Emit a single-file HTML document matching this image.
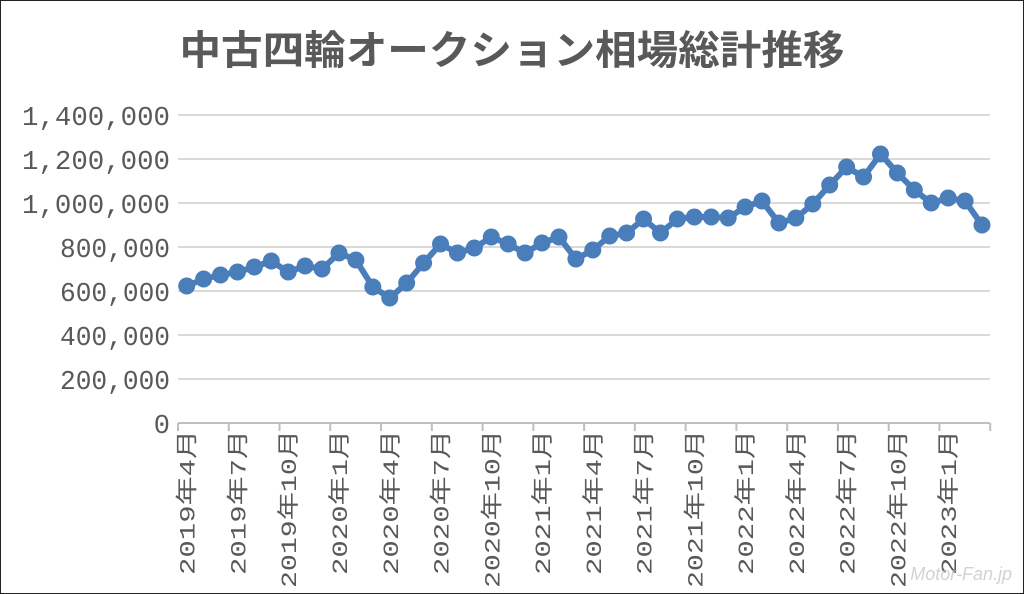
<!DOCTYPE html>
<html><head><meta charset="utf-8"><style>
html,body{margin:0;padding:0;background:#fff;}
svg{display:block;}
</style></head><body>
<svg width="1024" height="594" viewBox="0 0 1024 594" xmlns="http://www.w3.org/2000/svg">
<rect x="0.5" y="0.5" width="1023" height="593" fill="#fff" stroke="#222" stroke-width="1"/>
<text x="512" y="64" text-anchor="middle" font-family="'Liberation Sans','Noto Sans CJK JP',sans-serif" font-size="40" font-weight="bold" fill="#595959" textLength="665" lengthAdjust="spacingAndGlyphs">中古四輪オークション相場総計推移</text>
<g stroke="#d9d9d9" stroke-width="2">
<line x1="178" x2="990" y1="115" y2="115"/>
<line x1="178" x2="990" y1="159" y2="159"/>
<line x1="178" x2="990" y1="203" y2="203"/>
<line x1="178" x2="990" y1="247" y2="247"/>
<line x1="178" x2="990" y1="291" y2="291"/>
<line x1="178" x2="990" y1="335" y2="335"/>
<line x1="178" x2="990" y1="379" y2="379"/>
</g>
<line x1="178" x2="990" y1="423" y2="423" stroke="#bfbfbf" stroke-width="2"/>
<g font-family="'Liberation Mono',monospace" font-size="27" fill="#595959" text-anchor="end" lengthAdjust="spacingAndGlyphs">
<text x="170" y="125" textLength="148" lengthAdjust="spacingAndGlyphs">1,400,000</text>
<text x="170" y="169" textLength="148" lengthAdjust="spacingAndGlyphs">1,200,000</text>
<text x="170" y="213" textLength="148" lengthAdjust="spacingAndGlyphs">1,000,000</text>
<text x="170" y="257" textLength="110" lengthAdjust="spacingAndGlyphs">800,000</text>
<text x="170" y="301" textLength="110" lengthAdjust="spacingAndGlyphs">600,000</text>
<text x="170" y="345" textLength="110" lengthAdjust="spacingAndGlyphs">400,000</text>
<text x="170" y="389" textLength="110" lengthAdjust="spacingAndGlyphs">200,000</text>
<text x="170" y="433">0</text>
</g>
<g id="ticks" stroke="#bfbfbf" stroke-width="2"></g>
<g id="xl" font-family="'Liberation Mono','Noto Sans CJK JP',monospace" font-size="22" fill="#595959"></g>
<polyline id="ln" fill="none" stroke="#4a7ebb" stroke-width="6" stroke-linejoin="round"/>
<g id="dots" fill="#4a7ebb"></g>
<text x="1012" y="580" text-anchor="end" font-family="'Liberation Sans',sans-serif" font-size="18" font-style="italic" fill="#c8c8c8" opacity="0.8">Motor-Fan.jp</text>
<script>
var ys=[286,279,275,272,267,261,272,266,269,253,260,287,298,283,263,244,253,248,237,244,253,243,237,259,250,236,233,219,233,219,217,217,218,207,201,223,218,204,185,167,177,154,173,190,203,198,201,225];
var ns="http://www.w3.org/2000/svg",pts=[],d=document.getElementById('dots');
var dx=(982-186.7)/47;
ys.forEach(function(y,i){var x=186.7+i*dx;pts.push(x.toFixed(1)+','+y);
var c=document.createElementNS(ns,'circle');c.setAttribute('cx',x);c.setAttribute('cy',y);c.setAttribute('r',8.5);d.appendChild(c);});
document.getElementById('ln').setAttribute('points',pts.join(' '));
var t=document.getElementById('ticks'),xl=document.getElementById('xl');
var labs=['2019年4月','2019年7月','2019年10月','2020年1月','2020年4月','2020年7月','2020年10月','2021年1月','2021年4月','2021年7月','2021年10月','2022年1月','2022年4月','2022年7月','2022年10月','2023年1月'];
for(var k=0;k<=16;k++){var x=178+k*3*dx;var l=document.createElementNS(ns,'line');l.setAttribute('x1',x);l.setAttribute('x2',x);l.setAttribute('y1',423);l.setAttribute('y2',431);t.appendChild(l);}
labs.forEach(function(s,k){var x=186.7+k*3*dx+8;var e=document.createElementNS(ns,'text');
var len=s.length==8?158:145;
e.setAttribute('transform','translate('+x+',430) rotate(-90)');e.setAttribute('x',-len);e.setAttribute('y',0);
e.setAttribute('textLength',len);e.setAttribute('lengthAdjust','spacingAndGlyphs');e.textContent=s;xl.appendChild(e);});
</script>
</svg>
</body></html>
